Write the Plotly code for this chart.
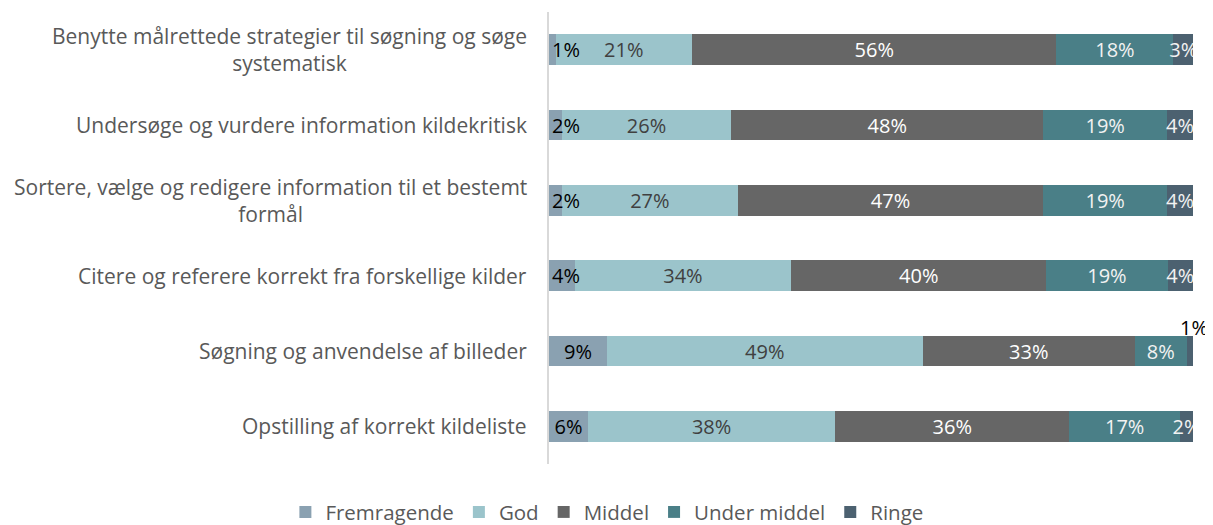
import plotly.graph_objects as go

categories = [
    "Benytte målrettede strategier til søgning og søge<br>systematisk",
    "Undersøge og vurdere information kildekritisk",
    "Sortere, vælge og redigere information til et bestemt<br>formål",
    "Citere og referere korrekt fra forskellige kilder",
    "Søgning og anvendelse af billeder",
    "Opstilling af korrekt kildeliste",
]
series_names = ["Fremragende", "God", "Middel", "Under middel", "Ringe"]
fremragende = [1, 2, 2, 4, 9, 6]
god = [21, 26, 27, 34, 49, 38]
middel = [56, 48, 47, 40, 33, 36]
under_middel = [18, 19, 19, 19, 8, 17]
ringe = [3, 4, 4, 4, 1, 2]

values = [fremragende, god, middel, under_middel, ringe]
colors = ["#8AA1B1", "#9BC4CB", "#666666", "#4A7F87", "#4C6170"]
text_colors = ["#000000", "#404040", "#FFFFFF", "#F2F2F2", "#F2F2F2"]

FONT = "Open Sans"
FS = 20

fig = go.Figure()
for name, vals, col, tcol in zip(series_names, values, colors, text_colors):
    texts = [f"{v}%" for v in vals]
    if name == "Fremragende":
        texts = ["" if v < 5 else t for v, t in zip(vals, texts)]
    if name == "Ringe":
        texts = ["" if v < 2 else t for v, t in zip(vals, texts)]
    fig.add_trace(go.Bar(
        y=categories, x=vals, name=name, orientation="h",
        marker=dict(color=col, line=dict(width=0)),
        text=texts, textposition="inside", insidetextanchor="middle",
        textangle=0, constraintext="none",
        textfont=dict(family=FONT, size=FS, color=tcol),
        hoverinfo="skip",
    ))

# narrow first segments: label anchored at bar start
for cat, v in zip(categories, fremragende):
    if v < 5:
        fig.add_annotation(
            x=0, xref="x", y=cat, yref="y", text=f"{v}%", showarrow=False,
            xanchor="left", xshift=1,
            font=dict(family=FONT, size=FS, color="#000000"),
        )

# tiny last segment: label above bar end
for cat, v in zip(categories, ringe):
    if v < 2:
        fig.add_annotation(
            x=100, xref="x", y=cat, yref="y", text=f"{v}%",
            showarrow=False, xanchor="center", yanchor="middle", yshift=24, xshift=1,
            font=dict(family=FONT, size=FS, color="#000000"),
        )

# category labels as centred multi-line annotations
for cat in categories:
    fig.add_annotation(
        x=0, xref="paper", y=cat, yref="y", text=cat, showarrow=False,
        xanchor="right", xshift=-20, align="center",
        font=dict(family=FONT, size=21, color="#595959"),
    )

fig.update_layout(
    barmode="stack", barnorm="percent", bargap=0.595,
    width=1205, height=517,
    margin=dict(l=541, r=20, t=4, b=61),
    plot_bgcolor="white", paper_bgcolor="white",
    showlegend=True,
    legend=dict(
        orientation="h", xref="container", yref="container",
        x=0.497, xanchor="center", y=0.025, yanchor="middle",
        font=dict(family=FONT, size=20.5, color="#595959"),
        traceorder="normal", itemwidth=30,
    ),
    xaxis=dict(visible=False, range=[0, 100], fixedrange=True),
    yaxis=dict(autorange="reversed", showticklabels=False, showgrid=False,
               showline=True, linecolor="#D9D9D9", linewidth=1.5, ticks="",
               zeroline=False),
)

fig.write_html("out.html")
